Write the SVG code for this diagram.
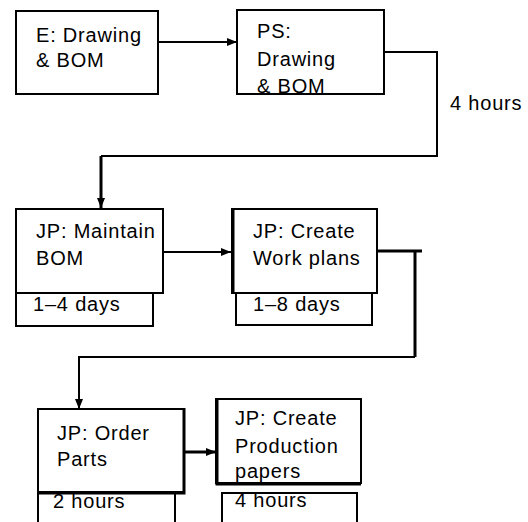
<svg xmlns="http://www.w3.org/2000/svg" width="528" height="522" viewBox="0 0 528 522">
<defs>
<marker id="ah" viewBox="0 0 10 10" refX="10" refY="5" markerWidth="10" markerHeight="10" markerUnits="userSpaceOnUse" orient="auto">
<path d="M0,1 L10,5 L0,9 z" fill="#000"/>
</marker>
<style>
.b{fill:#fff;stroke:#000;stroke-width:2}
.t{font-family:"Liberation Sans",Arial,sans-serif;font-size:20px;letter-spacing:0.8px;fill:#000}
.c{fill:none;stroke:#000;stroke-width:2}
.k{fill:none;stroke:#000;stroke-width:3}
</style>
</defs>
<rect width="528" height="522" fill="#fff"/>
<g id="connectors">
<path class="c" d="M153,42 H237" marker-end="url(#ah)"/>
<path class="c" d="M384,52 H437 V156 H101"/>
<path class="k" d="M101,156 V208" marker-end="url(#ah)"/>
<path class="c" d="M163,252 H231" marker-end="url(#ah)"/>
<path class="k" d="M377,251 H422 M415,251 V357"/>
<path class="c" d="M415,357 H79 V409" marker-end="url(#ah)"/>
<path class="k" d="M184,452 H216" marker-end="url(#ah)"/>
</g>
<text class="t" x="450" y="110">4 hours</text>
<g id="n1">
<rect class="b" x="16" y="11" width="142" height="83"/>
<text class="t" x="36" y="42">E: Drawing</text>
<text class="t" x="36" y="67">&amp; BOM</text>
</g>
<g id="n2">
<rect class="b" x="237" y="10" width="147" height="84"/>
<text class="t" x="257" y="38">PS:</text>
<text class="t" x="257" y="66">Drawing</text>
<text class="t" x="257" y="93">&amp; BOM</text>
</g>
<g id="n3">
<rect class="b" x="16" y="293" width="137" height="33"/>
<rect class="b" x="16" y="209" width="147" height="84"/>
<text class="t" x="36" y="238">JP: Maintain</text>
<text class="t" x="36" y="265">BOM</text>
<text class="t" x="33" y="311">1–4 days</text>
</g>
<g id="n4">
<rect class="b" x="236" y="293" width="136" height="32"/>
<rect class="b" x="232" y="209" width="145" height="84"/>
<path class="k" d="M233,208 V294"/>
<text class="t" x="253" y="238">JP: Create</text>
<text class="t" x="253" y="265">Work plans</text>
<text class="t" x="253" y="311">1–8 days</text>
</g>
<g id="n5">
<rect class="b" x="38" y="492" width="137" height="40"/>
<rect class="b" x="38" y="409" width="146" height="83"/>
<path class="k" d="M184,408 V493 H38"/>
<text class="t" x="57" y="440">JP: Order</text>
<text class="t" x="57" y="466">Parts</text>
<text class="t" x="53" y="508">2 hours</text>
</g>
<g id="n6">
<rect class="b" x="222" y="493" width="135" height="40"/>
<rect class="b" x="216" y="399" width="145" height="84"/>
<path class="k" d="M217,398 V484 H361"/>
<text class="t" x="235" y="425">JP: Create</text>
<text class="t" x="235" y="453">Production</text>
<text class="t" x="235" y="478">papers</text>
<text class="t" x="235" y="507">4 hours</text>
</g>
</svg>
